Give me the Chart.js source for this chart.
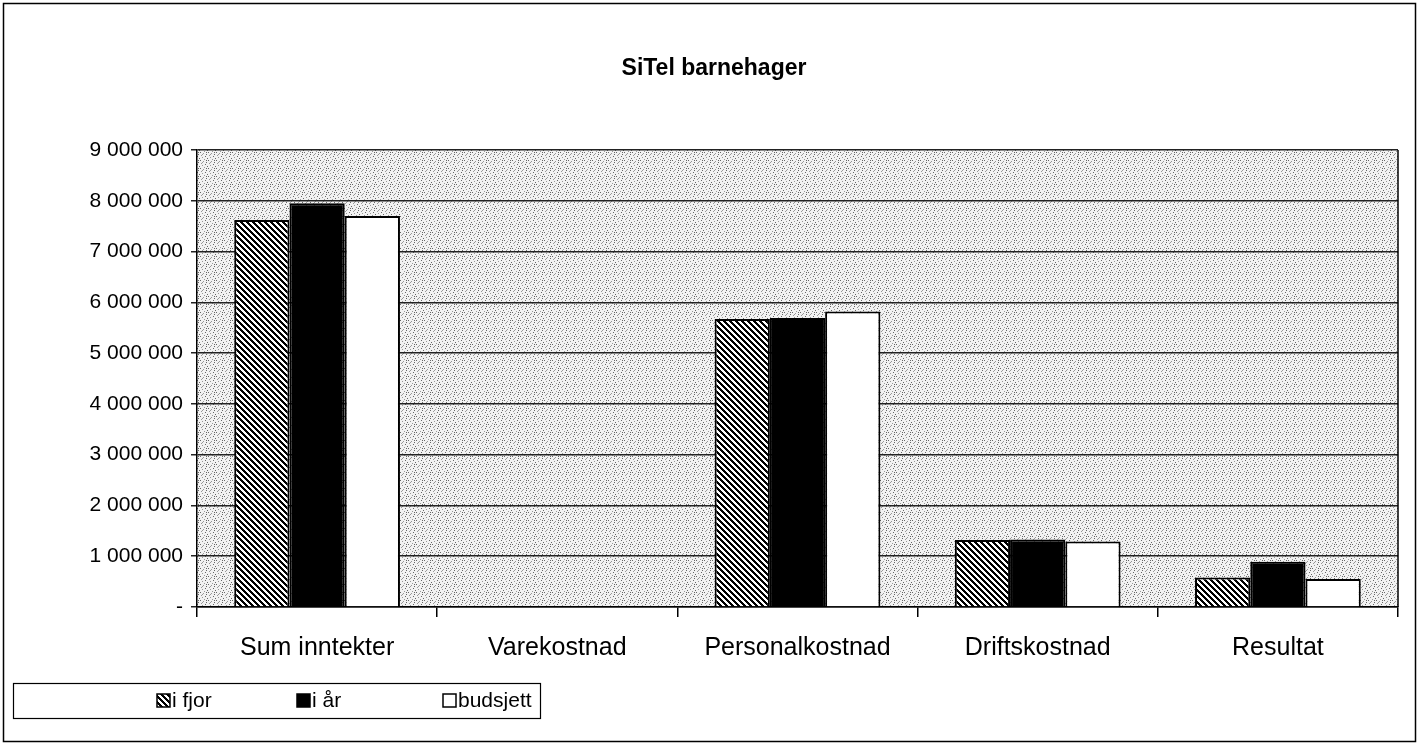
<!DOCTYPE html>
<html>
<head>
<meta charset="utf-8">
<script src="https://cdn.jsdelivr.net/npm/chart.js@4.4.1/dist/chart.umd.min.js"></script>
<style>
html,body{margin:0;padding:0;background:#fff;}
#wrap{width:1419px;height:745px;position:relative;}
</style>
</head>
<body>
<div id="wrap"><canvas id="c" width="1419" height="745"></canvas></div>
<script>
const categories = ['Sum inntekter', 'Varekostnad', 'Personalkostnad', 'Driftskostnad', 'Resultat'];
const seriesNames = ['i fjor', 'i år', 'budsjett'];
const iFjor = [7620000, 0, 5670000, 1320000, 580000];
const iAr = [7950000, 0, 5690000, 1330000, 890000];
const budsjett = [7700000, 0, 5820000, 1290000, 550000];
const yTicks = [0, 1000000, 2000000, 3000000, 4000000, 5000000, 6000000, 7000000, 8000000, 9000000];
const titleText = 'SiTel barnehager';

function makeHatch() {
  const c = document.createElement('canvas');
  c.width = 6; c.height = 6;
  const x = c.getContext('2d');
  x.fillStyle = '#fff'; x.fillRect(0, 0, 6, 6);
  x.fillStyle = '#000';
  for (let i = 0; i < 6; i++) {
    x.fillRect(i, i, 1, 1);
    x.fillRect((i + 1) % 6, i, 1, 1);
    x.fillRect((i + 2) % 6, i, 1, 1);
  }
  return x.createPattern(c, 'repeat');
}
function makeStipple(ctx) {
  const c = document.createElement('canvas');
  c.width = 8; c.height = 8;
  const x = c.getContext('2d');
  x.fillStyle = '#f2f2f2'; x.fillRect(0, 0, 8, 8);
  const dots = [[0,0],[3,1],[6,2],[1,3],[5,4],[2,5],[7,6],[4,7],[6,0],[2,2]];
  dots.forEach(([a, b], k) => { x.fillStyle = k % 2 ? '#999' : '#666'; x.fillRect(a, b, 1, 1); });
  return ctx.createPattern(c, 'repeat');
}
const hatch = makeHatch();

const PLOT = {left: 197, right: 1398, top: 150, bottom: 607};
const FONT = '"Liberation Sans", Arial, sans-serif';

const framePlugin = {
  id: 'frame',
  beforeDraw(chart) {
    const ctx = chart.ctx;
    const a = chart.chartArea;
    ctx.save();
    ctx.fillStyle = '#fff';
    ctx.fillRect(0, 0, chart.width, chart.height);
    ctx.fillStyle = makeStipple(ctx);
    ctx.fillRect(a.left, a.top, a.right - a.left, a.bottom - a.top);
    ctx.restore();
  },
  afterDraw(chart) {
    const ctx = chart.ctx;
    const a = chart.chartArea;
    ctx.save();
    ctx.strokeStyle = '#000';
    ctx.lineWidth = 1.5;
    ctx.strokeRect(3.5, 3.5, chart.width - 7, chart.height - 7);
    ctx.beginPath();
    ctx.moveTo(a.right, a.top); ctx.lineTo(a.right, a.bottom);
    ctx.stroke();
    ctx.fillStyle = '#000';
    ctx.font = 'bold 23px ' + FONT;
    ctx.textAlign = 'center';
    ctx.textBaseline = 'middle';
    ctx.fillText(titleText, 714, 69);
    const lx = 13, ly = 683, lw = 527, lh = 35;
    ctx.lineWidth = 1.2;
    ctx.strokeRect(lx + 0.5, ly + 0.5, lw, lh);
    const xs = [157, 297, 443];
    ctx.font = '21px ' + FONT;
    ctx.textAlign = 'left';
    chart.data.datasets.forEach((ds, i) => {
      const sx = xs[i], sy = ly + 11;
      ctx.fillStyle = ds.backgroundColor;
      ctx.fillRect(sx, sy, 13, 13);
      ctx.strokeStyle = '#000';
      ctx.lineWidth = 1.5;
      ctx.strokeRect(sx, sy, 13, 13);
      ctx.fillStyle = '#000';
      ctx.fillText(ds.label, sx + 15, ly + 18);
    });
    ctx.restore();
  }
};

new Chart(document.getElementById('c'), {
  type: 'bar',
  data: {
    labels: categories,
    datasets: [
      {label: seriesNames[0], data: iFjor, backgroundColor: hatch, borderColor: '#000', borderWidth: 2},
      {label: seriesNames[1], data: iAr, backgroundColor: '#000', borderColor: '#000', borderWidth: 2},
      {label: seriesNames[2], data: budsjett, backgroundColor: '#fff', borderColor: '#000', borderWidth: 2}
    ]
  },
  options: {
    responsive: false,
    animation: false,
    events: [],
    layout: {padding: {left: 0, right: 1419 - PLOT.right, top: PLOT.top, bottom: 0}},
    datasets: {bar: {categoryPercentage: 0.69, barPercentage: 1.0, grouped: true}},
    plugins: {legend: {display: false}, title: {display: false}, tooltip: {enabled: false}},
    scales: {
      x: {
        afterFit(s) { s.height = 745 - PLOT.bottom; },
        grid: {display: true, offset: true, drawOnChartArea: false, drawTicks: true, tickLength: 10, color: '#000', lineWidth: 1.5},
        border: {display: true, color: '#000', width: 1.5},
        ticks: {color: '#000', font: {family: FONT, size: 25}, padding: 16, maxRotation: 0}
      },
      y: {
        min: 0, max: 9000000,
        afterFit(s) { s.width = PLOT.left; },
        afterBuildTicks(s) { s.ticks = yTicks.map(v => ({value: v})); },
        grid: {display: true, drawTicks: true, tickLength: 6, color: '#222', lineWidth: 1.5},
        border: {display: true, color: '#000', width: 1.5},
        ticks: {
          color: '#000', padding: 8,
          font: {family: FONT, size: 21},
          callback(v) { return v === 0 ? '-' : v.toLocaleString('en-US').replace(/,/g, ' '); }
        }
      }
    }
  },
  plugins: [framePlugin]
});
</script>
</body>
</html>
